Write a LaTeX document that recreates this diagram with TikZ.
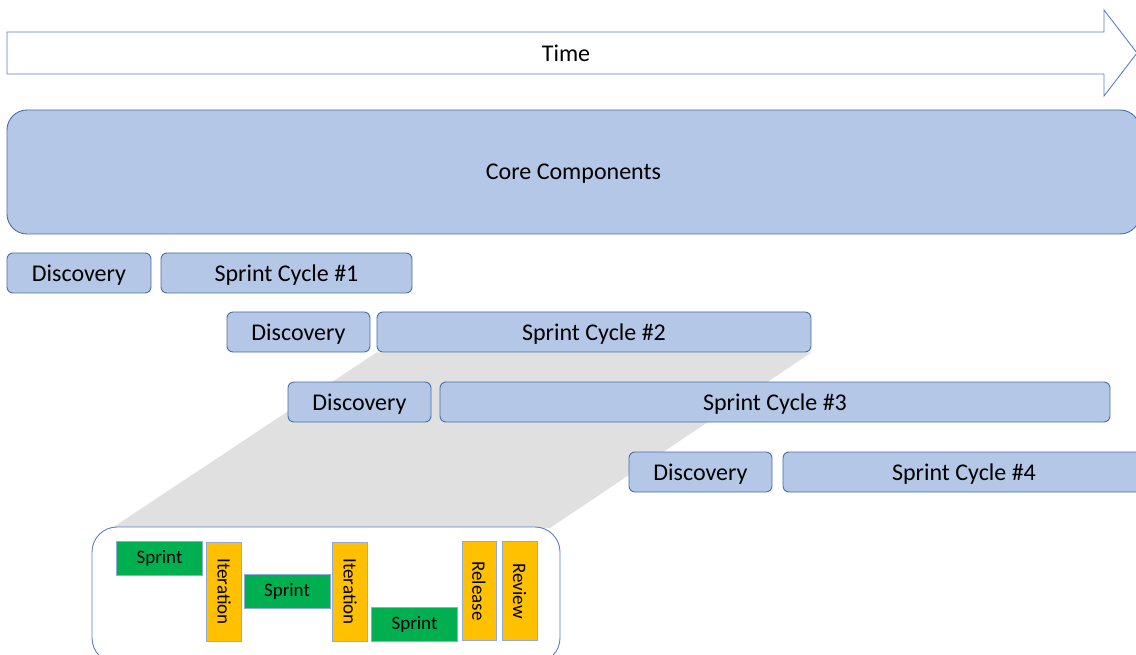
\documentclass[tikz,border=0pt]{standalone}
\usepackage{fontspec}
\setmainfont{Carlito}
\usetikzlibrary{backgrounds}

\definecolor{phasefill}{HTML}{B4C7E7}
\definecolor{phaseline}{HTML}{4A6FA5}
\definecolor{arrowline}{HTML}{5B7FC0}
\definecolor{zoomgray}{HTML}{E0E0E0}
\definecolor{sprintgreen}{HTML}{00B050}
\definecolor{stepamber}{HTML}{FFC000}
\definecolor{smallline}{HTML}{8FAADC}

\begin{document}
\begin{tikzpicture}[x=1pt, y=-1pt,
  phase/.style={draw=phaseline, fill=phasefill, line width=0.9pt, rounded corners=6pt,
    minimum height=40pt, inner sep=0pt, text depth=0pt, font=\fontsize{24}{28}\selectfont},
  sprintbox/.style={draw=smallline, fill=sprintgreen, line width=0.8pt, minimum width=86pt,
    minimum height=34pt, inner sep=0pt, font=\fontsize{19}{22}\selectfont},
  stepbox/.style={draw=smallline, fill=stepamber, line width=0.8pt, rotate=-90, minimum width=99pt,
    minimum height=35pt, inner sep=0pt, font=\fontsize{19}{22}\selectfont}]
  \useasboundingbox (0,0) rectangle (1136,655);
  % Time arrow
  \draw[arrowline, line width=0.9pt, fill=white]
    (7,32) -- (1104,32) -- (1104,10) -- (1137,53) -- (1104,96) -- (1104,74) -- (7,74) -- cycle;
  \node[text depth=0pt, font=\fontsize{24}{28}\selectfont] (time) at (566,53) {Time};
  % Core components band
  \node[phase, rounded corners=20pt, minimum width=1133pt, minimum height=124pt] (core) at (573.5,172) {Core Components};
  % Discovery + sprint cycles, one row each
  \node[phase, minimum width=144pt] (disc1) at (79,273) {Discovery};
  \node[phase, minimum width=251pt] (cycle1) at (286.5,273) {Sprint Cycle \#1};
  \node[phase, minimum width=143pt] (disc2) at (298.5,332) {Discovery};
  \node[phase, minimum width=434pt] (cycle2) at (594,332) {Sprint Cycle \#2};
  \node[phase, minimum width=143pt] (disc3) at (359.5,402) {Discovery};
  \node[phase, minimum width=670pt] (cycle3) at (775,402) {Sprint Cycle \#3};
  \node[phase, minimum width=143pt] (disc4) at (700.5,472) {Discovery};
  \node[phase, minimum width=362pt] (cycle4) at (964,472) {Sprint Cycle \#4};
  % Close-up of sprint cycle #2
  \node[draw=arrowline, fill=white, line width=0.9pt, rounded corners=25pt,
    minimum width=468pt, minimum height=136pt] (zoombox) at (326,595) {};
  \node[sprintbox] (sprint1) at (159.5,558) {Sprint};
  \node[stepbox] (iter1) at (224,591.5) {Iteration};
  \node[sprintbox] (sprint2) at (287,591) {Sprint};
  \node[stepbox] (iter2) at (350,591.5) {Iteration};
  \node[sprintbox] (sprint3) at (414.5,624) {Sprint};
  \node[stepbox, minimum height=34pt] (release) at (479,591) {Release};
  \node[stepbox] (review) at (519.5,591) {Review};
  % Gray projection behind the rows
  \begin{pgfonlayer}{background}
    \fill[zoomgray] (cycle2.south west) -- (cycle2.south east) -- (550,528) -- (112,528) -- cycle;
  \end{pgfonlayer}
\end{tikzpicture}
\end{document}
